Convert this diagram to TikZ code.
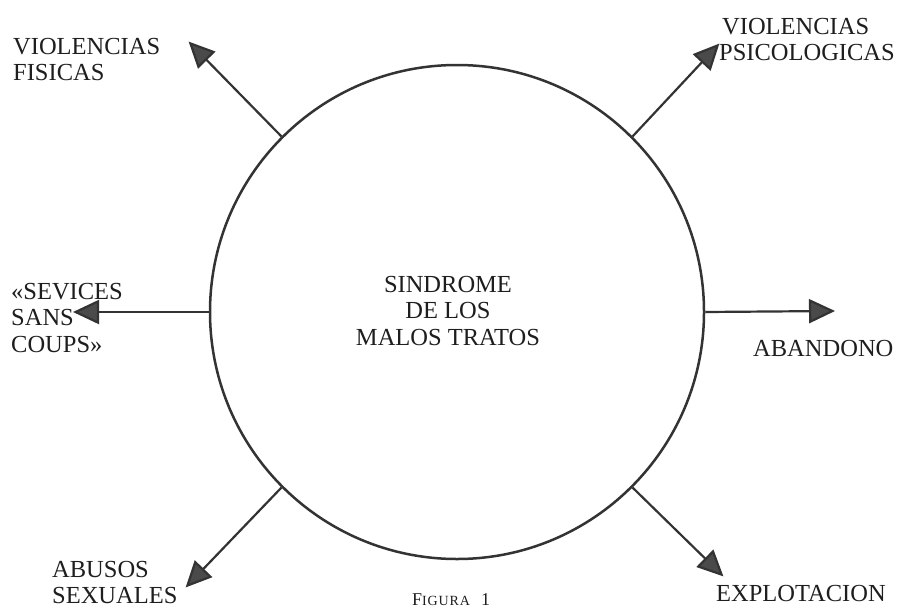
\documentclass[tikz,border=0pt]{standalone}
\usepackage{fontspec}
\setmainfont{Liberation Serif}
\usetikzlibrary{arrows.meta}
\definecolor{ink}{HTML}{1E1E1E}
\definecolor{linec}{HTML}{333333}
\definecolor{headc}{HTML}{4A4A4A}
\begin{document}
\begin{tikzpicture}[x=1pt,y=-1pt,
  lbl/.style={inner sep=0pt, align=left, text=ink, font=\fontsize{24.5}{26.5}\selectfont},
  spoke/.style={draw=linec, line width=2.2pt, -{Triangle[length=26pt,width=24pt,fill=headc]}, shorten >=-2pt}]
\useasboundingbox[fill=white] (0,0) rectangle (901,610);
\node[circle, draw=linec, line width=2.5pt, minimum size=494pt, inner sep=0pt] (c) at (457,312) {};
\node[lbl, anchor=north, align=center] (ctr) at (448,276) {SINDROME\\DE LOS\\MALOS TRATOS};
\coordinate (tFis) at (190,43);
\coordinate (tPsi) at (718,45);
\coordinate (tSev) at (75,312);
\coordinate (tAba) at (833,311);
\coordinate (tAbu) at (187,586);
\coordinate (tExp) at (722,575);
\draw[spoke] (c.135) -- (tFis);
\draw[spoke] (c.45) -- (tPsi);
\draw[spoke] (c.180) -- (tSev);
\draw[spoke] (c.0) -- (tAba);
\draw[spoke] (c.225) -- (tAbu);
\draw[spoke] (c.-45) -- (tExp);
\node[lbl, anchor=north west] (lFis) at (13,38) {VIOLENCIAS\\FISICAS};
\node[lbl, anchor=north west] (lPsi) at (719,18) {\hspace{3pt}VIOLENCIAS\\PSICOLOGICAS};
\node[lbl, anchor=north west] (lSev) at (11,283) {«SEVICES\\SANS\\COUPS»};
\node[lbl, anchor=base west] (lAba) at (753,356) {ABANDONO};
\node[lbl, anchor=north west] (lAbu) at (52,561) {ABUSOS\\SEXUALES};
\node[lbl, anchor=base west] (lExp) at (716,601) {EXPLOTACION};
\node[inner sep=0pt, anchor=base west, text=ink] (fig) at (412,605)
  {\fontsize{18}{20}\selectfont F\fontsize{14}{20}\selectfont\addfontfeature{LetterSpace=6}IGURA\fontsize{18}{20}\selectfont\ \ 1};
\end{tikzpicture}
\end{document}
